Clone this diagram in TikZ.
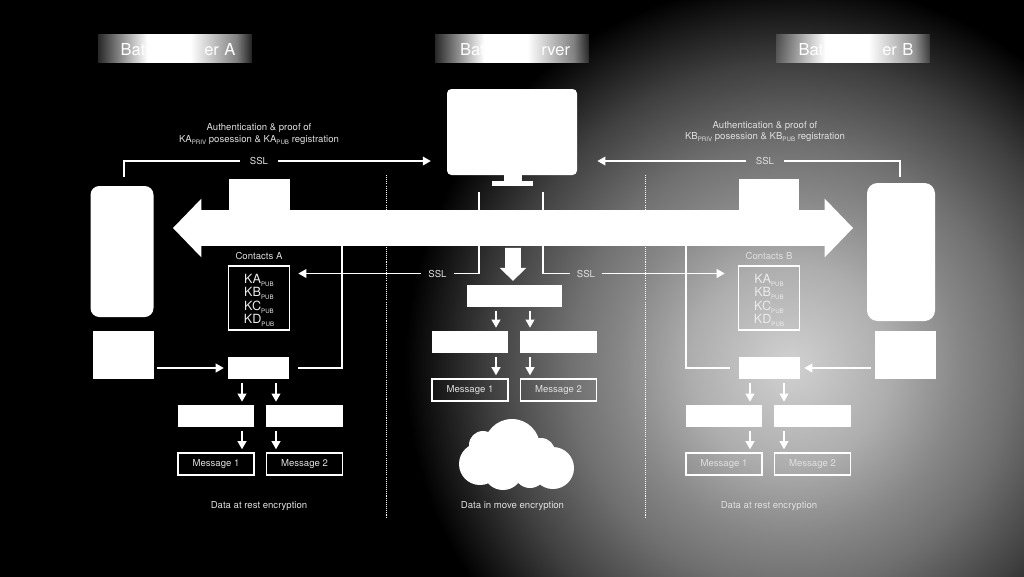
\documentclass[tikz,border=0pt]{standalone}
\usepackage{fontspec}
\setmainfont{TeX Gyre Heros}
\usepackage{tikz}
\usetikzlibrary{arrows.meta,positioning,calc,fadings,shapes.arrows}
\def\px{0.02cm}
\newcommand{\subt}[1]{\raisebox{-0.45ex}{\fontsize{3.5pt}{4pt}\selectfont #1}}
\newcommand{\keyline}[1]{K#1\subt{PUB}}
\pgfdeclareradialshading{glow}{\pgfpoint{0bp}{0bp}}{
  color(0bp)=(white!82!black);color(6.5bp)=(white!68!black);
  color(11bp)=(white!53!black);color(14.3bp)=(white!44!black);
  color(19.5bp)=(white!25!black);color(25bp)=(black);color(50bp)=(black)}
\pgfdeclarehorizontalshading{bandgrad}{100bp}{
  color(0bp)=(pgftransparent!85);color(25bp)=(pgftransparent!85);
  color(41bp)=(pgftransparent!0);color(55bp)=(pgftransparent!0);
  color(70bp)=(pgftransparent!50);color(75bp)=(pgftransparent!88);color(100bp)=(pgftransparent!88)}
\pgfdeclarefading{bandfade}{\pgfuseshading{bandgrad}}
\tikzset{
  wbox/.style 2 args={fill=white,inner sep=0pt,minimum width=#1*\px,minimum height=#2*\px},
  obox/.style 2 args={draw=white,line width=0.85pt,inner sep=0pt,text=white!88!black,align=center,
                      minimum width=#1*\px,minimum height=#2*\px},
  label/.style={text=white!88!black,inner sep=0pt,align=center,font=\fontsize{5.45pt}{6.5pt}\selectfont},
  keys/.style={text=white!92!black,inner sep=0pt,align=center,font=\fontsize{7.2pt}{7.75pt}\selectfont},
  sslgap/.style 2 args={label,minimum width=#1*\px,minimum height=#2*\px},
  conn/.style={white,line width=0.85pt},
  flow/.style={conn,-{Triangle[length=4.6pt,width=5pt]}},
  band/.style={fill=white,path fading=bandfade},
  bandtext/.style={text=white,inner sep=0pt,font=\fontsize{9.4pt}{10pt}\selectfont,text width=#1*\px},
  divider/.style={white,line width=0.55pt,dash pattern=on 0.6pt off 0.6pt},
}
\begin{document}
\begin{tikzpicture}[x=\px,y=-\px]
  \useasboundingbox (0,0) rectangle (1024,576);
  \begin{scope}
    \clip (-4,-4) rectangle (1028,580);
    \fill[black] (-4,-4) rectangle (1028,580);
    \shade[shading=glow] (790,365) circle (385);
  \end{scope}
  % title bands
  \foreach \nm/\xl/\tw/\tA/\tB in {A/98/115/Bat/er A,S/435/110/Bat/rver,B/776/115/Bat/er B}{
    \fill[band] (\xl,34) rectangle ++(154,29);
    \node[bandtext=\tw] (title\nm) at (\xl+80,49.5) {\tA\hfill\tB};
  }
  % monitor
  \node[wbox={130}{86},rounded corners=2.5pt] (monitor) at (512,132) {};
  \node[wbox={18}{7}] (neck) at (512.5,178) {};
  \node[wbox={41}{5}] (foot) at (512.5,183.5) {};
  % phones
  \node[wbox={63}{131},rounded corners=5pt] (phoneA) at (122,251.5) {};
  \node[wbox={68}{138},rounded corners=6pt] (phoneB) at (901,252) {};
  \node[wbox={61}{48}] (cardA) at (123,355) {};
  \node[wbox={61}{48}] (cardB) at (905.5,355) {};
  % central bus
  \node[wbox={61}{50}] (topA) at (259,204) {};
  \node[wbox={60}{50}] (topB) at (769,204) {};
  \node[fill=white,double arrow,inner sep=0pt,text height=35*\px,text depth=0pt,minimum height=680*\px,
        double arrow head extend=11.5*\px,double arrow tip angle=92] (bus) at (513,228) {};
  \node[single arrow,fill=white,inner sep=0pt,rotate=-90,text height=15*\px,text depth=0pt,minimum height=33*\px,
        single arrow head extend=5.5*\px,single arrow tip angle=92] (busdown) at (513,260.5) {};
  % contacts
  \node[obox={61}{64}] (contactsA) at (259,298) {};
  \node[obox={61}{64}] (contactsB) at (769,298) {};
  \node[keys] (keysA) at (259,300.5) {\keyline{A}\\\keyline{B}\\\keyline{C}\\\keyline{D}};
  \node[keys] (keysB) at (769,300.5) {\keyline{A}\\\keyline{B}\\\keyline{C}\\\keyline{D}};
  \node[label] (contactsAtext) at (259,256) {Contacts A};
  \node[label] (contactsBtext) at (769,256) {Contacts B};
  % the three message columns
  \node[wbox={61}{22}] (headA) at (258.5,368) {};
  \node[wbox={95}{22}] (headS) at (514.5,296) {};
  \node[wbox={61}{22}] (headB) at (769.5,368) {};
  \foreach \nm/\dx/\dy in {A/0/0,S/254/-74,B/508/0}{
    \node[wbox={76}{22}] (blockone\nm) at (216+\dx,416+\dy) {};
    \node[wbox={77}{22}] (blocktwo\nm) at (304.5+\dx,416+\dy) {};
    \node[obox={76}{22},label] (msgone\nm) at (216+\dx,464+\dy) {Message 1};
    \node[obox={76}{22},label] (msgtwo\nm) at (304.5+\dx,464+\dy) {Message 2};
    \coordinate (left\nm) at (242+\dx,0);
    \coordinate (right\nm) at (276+\dx,0);
    \draw[flow,shorten <=2.2pt,shorten >=1.7pt] (left\nm |- head\nm.south) -- (left\nm |- blockone\nm.north);
    \draw[flow,shorten <=2.2pt,shorten >=1.7pt] (right\nm |- head\nm.south) -- (right\nm |- blocktwo\nm.north);
    \draw[flow,shorten <=2.2pt,shorten >=1.7pt] (left\nm |- blockone\nm.south) -- (left\nm |- msgone\nm.north);
    \draw[flow,shorten <=2.2pt,shorten >=1.7pt] (right\nm |- blocktwo\nm.south) -- (right\nm |- msgtwo\nm.north);
  }
  % card to head, head up to the bus
  \draw[flow,shorten <=2pt,shorten >=2.2pt] (cardA.east |- headA) -- (headA);
  \draw[flow,shorten <=2pt,shorten >=2.2pt] (cardB.west |- headB) -- (headB);
  \coordinate (riseA) at (342,245);
  \coordinate (riseB) at (686,245);
  \draw[conn,shorten <=5pt] (headA.east) -| (riseA);
  \draw[conn,shorten <=5pt] (headB.west) -| (riseB);
  % SSL links
  \node[sslgap={37}{10}] (sslA) at (259,161) {SSL};
  \node[sslgap={37}{10}] (sslB) at (765,161) {SSL};
  \node[sslgap={32}{10}] (sslL) at (437.5,273.5) {SSL};
  \node[sslgap={32}{10}] (sslR) at (586,273.5) {SSL};
  \coordinate (phoneAtop) at (124,177);
  \coordinate (phoneBtop) at (900,177);
  \coordinate (monL) at (479,192);
  \coordinate (monR) at (543,192);
  \draw[conn] (phoneAtop) |- (sslA);
  \draw[conn] (phoneBtop) |- (sslB);
  \draw[flow,shorten >=9pt] (sslA) -- (monitor.west |- sslA);
  \draw[flow,shorten >=11.4pt] (sslB) -- (monitor.east |- sslB);
  \draw[conn] (monL) |- (sslL);
  \draw[conn] (monR) |- (sslR);
  \draw[flow,shorten >=4.6pt] (sslL) -- (contactsA.east |- sslL);
  \draw[flow,shorten >=7.4pt] (sslR) -- (contactsB.west |- sslR);
  % dividers
  \coordinate (divLtop) at (386,175);
  \coordinate (divLbot) at (386,518);
  \coordinate (divRtop) at (645,175);
  \coordinate (divRbot) at (645,518);
  \draw[divider] (divLtop) -- (divLbot);
  \draw[divider] (divRtop) -- (divRbot);
  % cloud
  \fill[white] (512,447) circle (28) (480,464) circle (21) (483,445) circle (14)
    (553,468) circle (21) (503,470) circle (20) (530,472) circle (16) (541,452) circle (14);
  % captions
  \node[label] (authA) at (259,134) {Authentication \& proof of\\KA\subt{PRIV} posession \& KA\subt{PUB} registration};
  \node[label] (authB) at (765,131.5) {Authentication \& proof of\\KB\subt{PRIV} posession \& KB\subt{PUB} registration};
  \node[label] (restA) at (259,506) {Data at rest encryption};
  \node[label] (move) at (512.5,506) {Data in move encryption};
  \node[label] (restB) at (769,506) {Data at rest encryption};
\end{tikzpicture}
\end{document}
